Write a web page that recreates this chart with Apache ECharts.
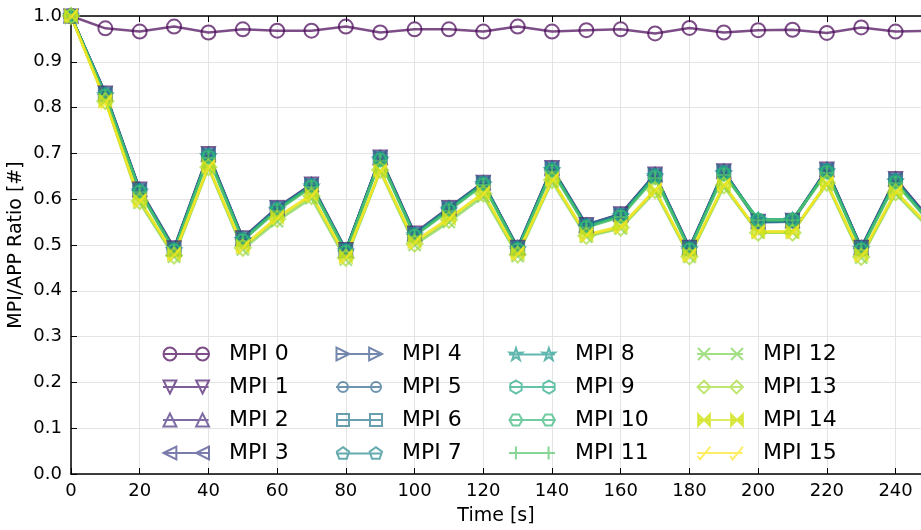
<!DOCTYPE html>
<html lang="en">
<head>
  <meta charset="UTF-8">
  <title>MPI/APP Ratio</title>
  <style>
    html, body { margin: 0; padding: 0; background: #fff; }
  </style>
</head>
<body>
  <div id="chart" style="width:921px;height:530px;"></div>
  <script src="https://cdn.jsdelivr.net/npm/echarts@6/dist/echarts.min.js"></script>
  <script>
  // sample times (s)
  var times = [0, 10, 20, 30, 40, 50, 60, 70, 80, 90, 100, 110, 120, 130, 140, 150, 160, 170, 180, 190, 200, 210, 220, 230, 240, 250];

  // ratio per rank
  var mpi0 = [1.0, 0.973, 0.966, 0.977, 0.964, 0.971, 0.968, 0.968, 0.977, 0.964, 0.971, 0.971, 0.966, 0.977, 0.966, 0.969, 0.971, 0.962, 0.974, 0.964, 0.969, 0.970, 0.963, 0.975, 0.966, 0.968];
  var mpi1 = [1.0, 0.832, 0.622, 0.494, 0.700, 0.516, 0.582, 0.633, 0.490, 0.692, 0.526, 0.582, 0.637, 0.495, 0.669, 0.545, 0.568, 0.655, 0.495, 0.662, 0.552, 0.554, 0.666, 0.495, 0.645, 0.556];
  var mpi2 = [1.0, 0.830, 0.621, 0.492, 0.698, 0.514, 0.580, 0.632, 0.488, 0.691, 0.524, 0.581, 0.636, 0.494, 0.668, 0.543, 0.567, 0.654, 0.494, 0.661, 0.551, 0.553, 0.665, 0.494, 0.644, 0.555];
  var mpi3 = [1.0, 0.829, 0.619, 0.491, 0.697, 0.513, 0.579, 0.630, 0.487, 0.690, 0.523, 0.579, 0.635, 0.493, 0.666, 0.542, 0.566, 0.652, 0.493, 0.660, 0.550, 0.552, 0.664, 0.493, 0.643, 0.553];
  var mpi4 = [1.0, 0.831, 0.620, 0.492, 0.698, 0.514, 0.581, 0.631, 0.488, 0.690, 0.524, 0.580, 0.636, 0.494, 0.667, 0.543, 0.567, 0.653, 0.494, 0.661, 0.552, 0.553, 0.664, 0.494, 0.643, 0.554];
  var mpi5 = [1.0, 0.828, 0.618, 0.490, 0.696, 0.512, 0.578, 0.629, 0.487, 0.689, 0.522, 0.578, 0.634, 0.492, 0.665, 0.541, 0.565, 0.651, 0.492, 0.659, 0.549, 0.551, 0.663, 0.492, 0.641, 0.552];
  var mpi6 = [1.0, 0.830, 0.620, 0.492, 0.697, 0.514, 0.580, 0.631, 0.489, 0.690, 0.524, 0.580, 0.636, 0.494, 0.667, 0.543, 0.566, 0.653, 0.494, 0.660, 0.552, 0.553, 0.664, 0.494, 0.642, 0.553];
  var mpi7 = [1.0, 0.829, 0.619, 0.491, 0.696, 0.513, 0.579, 0.630, 0.488, 0.689, 0.523, 0.579, 0.635, 0.493, 0.666, 0.542, 0.565, 0.652, 0.493, 0.659, 0.551, 0.552, 0.663, 0.493, 0.641, 0.552];
  var mpi8 = [1.0, 0.828, 0.618, 0.490, 0.695, 0.512, 0.578, 0.629, 0.487, 0.688, 0.522, 0.578, 0.634, 0.492, 0.665, 0.541, 0.564, 0.651, 0.492, 0.658, 0.555, 0.555, 0.662, 0.492, 0.640, 0.551];
  var mpi9 = [1.0, 0.827, 0.617, 0.489, 0.694, 0.511, 0.577, 0.628, 0.486, 0.687, 0.521, 0.577, 0.633, 0.491, 0.664, 0.540, 0.563, 0.650, 0.491, 0.657, 0.556, 0.556, 0.661, 0.491, 0.639, 0.550];
  var mpi10 = [1.0, 0.826, 0.616, 0.488, 0.692, 0.510, 0.576, 0.627, 0.485, 0.686, 0.520, 0.576, 0.632, 0.490, 0.662, 0.539, 0.562, 0.648, 0.490, 0.655, 0.555, 0.555, 0.659, 0.490, 0.637, 0.549];
  var mpi11 = [1.0, 0.825, 0.615, 0.487, 0.690, 0.509, 0.575, 0.626, 0.484, 0.684, 0.519, 0.575, 0.631, 0.489, 0.660, 0.538, 0.561, 0.646, 0.489, 0.653, 0.554, 0.554, 0.657, 0.489, 0.635, 0.548];
  var mpi12 = [1.0, 0.815, 0.592, 0.474, 0.668, 0.490, 0.552, 0.602, 0.468, 0.660, 0.500, 0.550, 0.606, 0.476, 0.638, 0.518, 0.536, 0.616, 0.474, 0.627, 0.527, 0.527, 0.632, 0.472, 0.612, 0.534];
  var mpi13 = [1.0, 0.814, 0.596, 0.477, 0.670, 0.494, 0.557, 0.607, 0.472, 0.664, 0.503, 0.555, 0.612, 0.479, 0.642, 0.520, 0.538, 0.620, 0.475, 0.630, 0.527, 0.527, 0.636, 0.474, 0.615, 0.537];
  var mpi14 = [1.0, 0.815, 0.598, 0.480, 0.672, 0.497, 0.561, 0.610, 0.475, 0.663, 0.508, 0.559, 0.614, 0.482, 0.643, 0.523, 0.541, 0.621, 0.479, 0.632, 0.530, 0.530, 0.636, 0.479, 0.617, 0.540];
  var mpi15 = [1.0, 0.813, 0.597, 0.480, 0.671, 0.496, 0.560, 0.609, 0.474, 0.662, 0.507, 0.558, 0.613, 0.482, 0.642, 0.522, 0.540, 0.620, 0.478, 0.631, 0.529, 0.529, 0.635, 0.478, 0.616, 0.539];

  var names = ['MPI 0', 'MPI 1', 'MPI 2', 'MPI 3', 'MPI 4', 'MPI 5', 'MPI 6', 'MPI 7',
               'MPI 8', 'MPI 9', 'MPI 10', 'MPI 11', 'MPI 12', 'MPI 13', 'MPI 14', 'MPI 15'];
  var values = [mpi0, mpi1, mpi2, mpi3, mpi4, mpi5, mpi6, mpi7,
                mpi8, mpi9, mpi10, mpi11, mpi12, mpi13, mpi14, mpi15];

  // viridis, one per rank
  var colors = ['#440154', '#481a6c', '#472f7d', '#414487', '#39568c', '#31688e', '#2a788e', '#23888e',
                '#1f988b', '#22a884', '#35b779', '#54c568', '#7ad151', '#a5db36', '#d2e21b', '#fde725'];

  // marker outlines in a [-1,1] box (y down)
  var shapes = {
    triDown: { polys: [[[0, 1], [1, -1], [-1, -1]]], closed: true },
    triUp: { polys: [[[0, -1], [1, 1], [-1, 1]]], closed: true },
    triLeft: { polys: [[[-1, 0], [1, -1], [1, 1]]], closed: true },
    triRight: { polys: [[[1, 0], [-1, -1], [-1, 1]]], closed: true },
    square: { polys: [[[-1, -1], [1, -1], [1, 1], [-1, 1]]], closed: true },
    pentagon: { polys: [[[0, -1], [0.951, -0.309], [0.588, 0.809], [-0.588, 0.809], [-0.951, -0.309]]], closed: true },
    star: { polys: [[[0, -1], [0.223, -0.307], [0.951, -0.309], [0.361, 0.117], [0.588, 0.809], [0, 0.38],
                     [-0.588, 0.809], [-0.361, 0.117], [-0.951, -0.309], [-0.223, -0.307]]], closed: true },
    hexPointy: { polys: [[[0, -1], [0.866, -0.5], [0.866, 0.5], [0, 1], [-0.866, 0.5], [-0.866, -0.5]]], closed: true },
    hexFlat: { polys: [[[-1, 0], [-0.5, -0.866], [0.5, -0.866], [1, 0], [0.5, 0.866], [-0.5, 0.866]]], closed: true },
    plus: { polys: [[[0, -1], [0, 1]], [[-1, 0], [1, 0]]], closed: false },
    cross: { polys: [[[-1, -1], [1, 1]], [[1, -1], [-1, 1]]], closed: false },
    diamond: { polys: [[[0, -1], [1, 0], [0, 1], [-1, 0]]], closed: true },
    bowtie: { polys: [[[-1, -1], [0, 0], [-1, 1]], [[1, -1], [0, 0], [1, 1]]], closed: true },
    hook: { polys: [[[-1, 0.5], [-0.6, 1], [1, -1]]], closed: false }
  };

  // [shape, radius px, filled]
  var markers = [
    ['circle', 7, false], ['triDown', 6.5, false], ['triUp', 6.5, false], ['triLeft', 6.5, false],
    ['triRight', 6.5, false], ['circle', 5, false], ['square', 6, false], ['pentagon', 6.5, false],
    ['star', 6.5, false], ['hexPointy', 6.5, false], ['hexFlat', 6.5, false], ['plus', 7, false],
    ['cross', 6, false], ['diamond', 8, false], ['bowtie', 6, true], ['hook', 6.5, false]
  ];

  function markerPath(kind, cx, cy, r) {
    if (kind === 'circle') {
      return 'M' + (cx + r) + ',' + cy + ' A' + r + ',' + r + ' 0 1,1 ' + (cx - r) + ',' + cy +
             ' A' + r + ',' + r + ' 0 1,1 ' + (cx + r) + ',' + cy + ' Z ';
    }
    var s = shapes[kind];
    return s.polys.map(function (p) {
      return p.map(function (pt, k) {
        return (k ? 'L' : 'M') + (cx + pt[0] * r).toFixed(2) + ',' + (cy + pt[1] * r).toFixed(2);
      }).join(' ') + (s.closed ? ' Z' : '');
    }).join(' ') + ' ';
  }

  function fade(hex, a) {
    var n = parseInt(hex.slice(1), 16);
    return 'rgba(' + (n >> 16) + ',' + ((n >> 8) & 255) + ',' + (n & 255) + ',' + a + ')';
  }

  var clear = 'rgba(255,255,255,0)';

  var series = names.map(function (name, i) {
    var c = fade(colors[i], 0.7);
    var m = markers[i];
    return {
      name: name,
      type: 'line',
      data: times.map(function (t, k) { return [t, values[i][k]]; }),
      symbol: m[0] === 'circle' ? 'circle' : 'path://' + markerPath(m[0], 0, 0, 10),
      symbolSize: m[1] * 2,
      symbolKeepAspect: true,
      showAllSymbol: true,
      lineStyle: { color: c, width: 2.5 },
      itemStyle: { color: m[2] ? c : clear, borderColor: c, borderWidth: 2 },
      emphasis: { disabled: true },
      animation: false
    };
  });

  // matplotlib-style legend handle: marker - line - marker
  var legendData = names.map(function (name, i) {
    var c = fade(colors[i], 0.7);
    var m = markers[i];
    var r = Math.min(m[1], 6.5);
    return {
      name: name,
      icon: 'path://M0,7 L46,7 ' + markerPath(m[0], 7, 7, r) + markerPath(m[0], 40, 7, r),
      itemStyle: { color: m[2] ? c : clear, borderColor: c, borderWidth: 2 }
    };
  });

  var font = 'DejaVu Sans';

  function legendCol(left, list) {
    return {
      orient: 'vertical',
      left: left,
      top: 338,
      itemWidth: 46,
      itemHeight: 14,
      itemGap: 11,
      data: list,
      textStyle: { fontFamily: font, fontSize: 22, color: '#000', lineHeight: 22, padding: [0, 0, 0, 15] }
    };
  }

  var myChart = echarts.init(document.getElementById('chart'));
  var option = {
    backgroundColor: '#fff',
    animation: false,
    grid: { left: 71, top: 16, right: 0, bottom: 56, containLabel: false, outerBoundsMode: 'none' },
    legend: [
      legendCol(157, legendData.slice(0, 4)),
      legendCol(330, legendData.slice(4, 8)),
      legendCol(503, legendData.slice(8, 12)),
      legendCol(691, legendData.slice(12, 16))
    ],
    xAxis: [{
      type: 'value',
      min: 0,
      max: 247.4,
      interval: 20,
      name: 'Time [s]',
      nameLocation: 'middle',
      nameGap: 33,
      nameMoveOverlap: false,
      nameTextStyle: { fontFamily: font, fontSize: 19, color: '#000' },
      axisLine: { lineStyle: { color: '#000', width: 1.5 } },
      axisTick: { inside: true, length: 6, lineStyle: { color: '#000' } },
      axisLabel: {
        fontFamily: font, fontSize: 18, color: '#000', margin: 8, showMaxLabel: false,
        formatter: function (v) { return v % 20 === 0 ? String(v) : ''; }
      },
      splitLine: { show: true, lineStyle: { color: '#e4e4e4', width: 1 } }
    }, {
      type: 'value',
      position: 'top',
      min: 0,
      max: 247.4,
      interval: 20,
      axisLine: { lineStyle: { color: '#000', width: 1.5 } },
      axisTick: { inside: true, length: 6, lineStyle: { color: '#000' } },
      axisLabel: { show: false },
      splitLine: { show: false }
    }],
    yAxis: {
      type: 'value',
      min: 0,
      max: 1,
      interval: 0.1,
      name: 'MPI/APP Ratio [#]',
      nameLocation: 'middle',
      nameGap: 45,
      nameMoveOverlap: false,
      nameTextStyle: { fontFamily: font, fontSize: 19, color: '#000' },
      axisLine: { show: true, lineStyle: { color: '#000', width: 1.5 } },
      axisTick: { show: true, inside: true, length: 6, lineStyle: { color: '#000' } },
      axisLabel: {
        fontFamily: font, fontSize: 18, color: '#000', margin: 9,
        formatter: function (v) { return v.toFixed(1); }
      },
      splitLine: { show: true, lineStyle: { color: '#e4e4e4', width: 1 } }
    },
    series: series
  };

  myChart.setOption(option);
  </script>
</body>
</html>
